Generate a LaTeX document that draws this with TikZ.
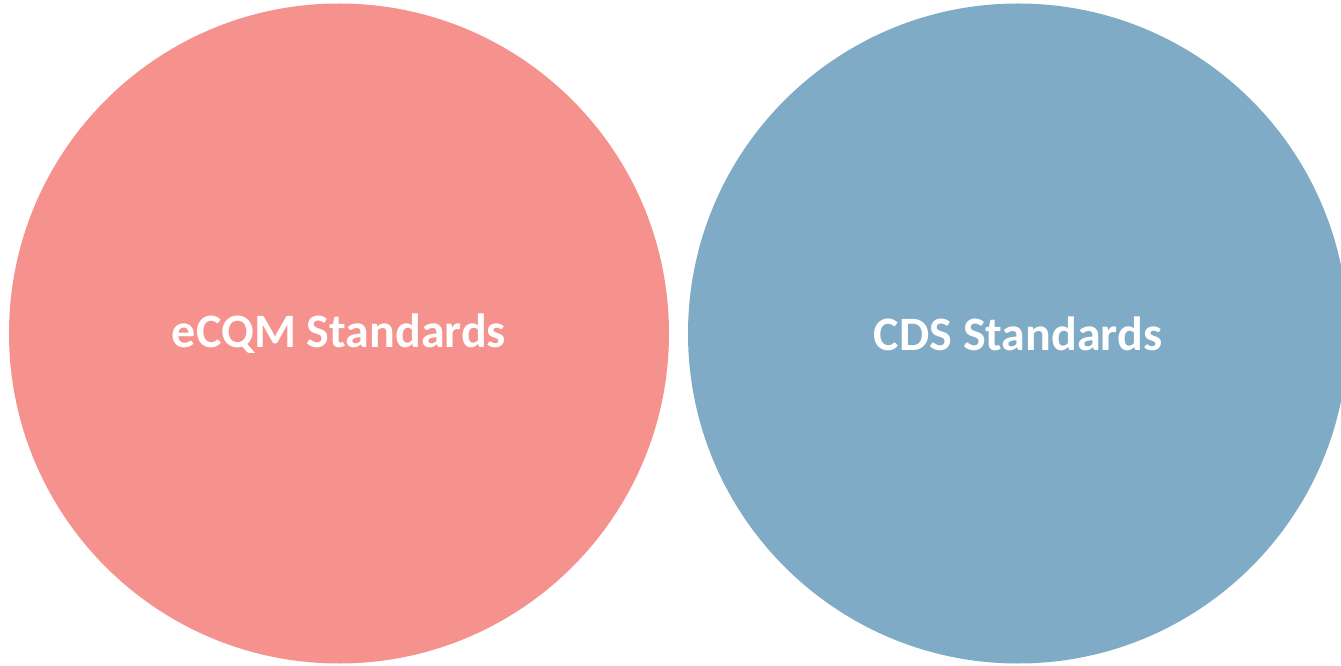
\documentclass[tikz,border=0pt]{standalone}
\usepackage{fontspec}
\setmainfont{Carlito}
\usetikzlibrary{positioning}
\definecolor{ecqmred}{RGB}{245,146,142}
\definecolor{cdsblue}{RGB}{127,171,198}

\begin{document}
\begin{tikzpicture}[x=1pt, y=1pt,
    bubble/.style={circle, minimum size=660pt, inner sep=0pt, text=white,
        font=\fontsize{48}{56}\selectfont\bfseries}]
    \clip (0,0) rectangle (1341,665);
    \fill[white] (0,0) rectangle (1341,665);

    \node[bubble, fill=ecqmred] (ecqm) at (339,331.5) {eCQM Standards};
    \node[bubble, fill=cdsblue] (cds) at (1018,331.5) {CDS Standards};
\end{tikzpicture}
\end{document}
